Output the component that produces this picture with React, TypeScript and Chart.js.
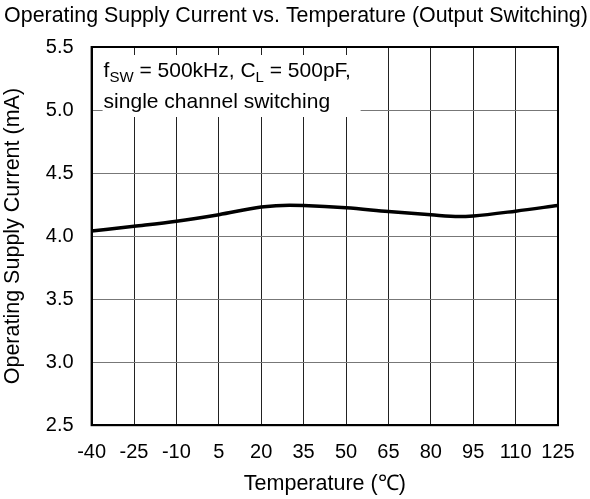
import React, { useEffect, useRef } from "react";
import { Chart, registerables } from "chart.js";

Chart.register(...registerables);

const temperatures = [-40, -25, -10, 5, 20, 30, 35, 50, 65, 80, 90, 95, 110, 125];
const supplyCurrent = [4.04, 4.078, 4.118, 4.17, 4.23, 4.245, 4.243, 4.225, 4.195, 4.169, 4.155, 4.16, 4.198, 4.243];
const xTicks = [-40, -25, -10, 5, 20, 35, 50, 65, 80, 95, 110, 125];
const yTicks = [2.5, 3.0, 3.5, 4.0, 4.5, 5.0, 5.5];
const chartTitle = "Operating Supply Current vs. Temperature (Output Switching)";

const FONT = "'Liberation Sans', Arial, sans-serif";

const notePlugin = {
  id: "note",
  beforeDatasetsDraw(chart: any) {
    const { ctx, chartArea } = chart;
    const x0 = chartArea.left + 11;
    const y0 = chartArea.top + 8;
    ctx.save();
    ctx.fillStyle = "#fff";
    ctx.fillRect(x0, y0, 258, 62);
    ctx.fillStyle = "#000";
    ctx.textBaseline = "alphabetic";
    ctx.textAlign = "left";
    const big = `21px ${FONT}`;
    const small = `15px ${FONT}`;
    let x = x0 + 1;
    const b1 = chartArea.top + 30;
    const parts: [string, boolean][] = [
      ["f", false],
      ["SW", true],
      [" = 500kHz, C", false],
      ["L", true],
      [" = 500pF,", false],
    ];
    for (const [t, sub] of parts) {
      ctx.font = sub ? small : big;
      ctx.fillText(t, x, sub ? b1 + 5 : b1);
      x += ctx.measureText(t).width;
    }
    ctx.font = big;
    ctx.fillText("single channel switching", x0 + 1, b1 + 31);
    ctx.restore();
  },
};

const titlePlugin = {
  id: "topTitle",
  afterDraw(chart: any) {
    const { ctx } = chart;
    ctx.save();
    ctx.fillStyle = "#000";
    ctx.font = `21.4px ${FONT}`;
    ctx.textAlign = "center";
    ctx.textBaseline = "middle";
    ctx.fillText(chartTitle, 296, 16);
    ctx.restore();
  },
};

export default function App() {
  const ref = useRef<HTMLCanvasElement>(null);
  useEffect(() => {
    const chart = new Chart(ref.current!, {
      type: "line",
      data: {
        datasets: [
          {
            data: temperatures.map((t, i) => ({ x: t, y: supplyCurrent[i] })),
            borderColor: "#000",
            borderWidth: 3.5,
            pointRadius: 0,
            cubicInterpolationMode: "monotone",
            fill: false,
          },
        ],
      },
      options: {
        animation: false,
        responsive: false,
        layout: { padding: { left: 0, right: 32, top: 47, bottom: 2 } },
        plugins: {
          legend: { display: false },
          tooltip: { enabled: false },
          title: { display: false },
        },
        scales: {
          x: {
            type: "linear",
            min: -40,
            max: 125,
            afterBuildTicks: (axis: any) => {
              axis.ticks = xTicks.map((v) => ({ value: v }));
            },
            ticks: {
              color: "#000",
              font: { family: FONT, size: 20 },
              padding: 15,
              maxRotation: 0,
              autoSkip: false,
            },
            grid: { color: "#222", lineWidth: 1, drawTicks: false },
            border: { color: "#000", width: 2 },
            title: {
              display: true,
              text: "Temperature (℃)",
              color: "#000",
              font: { family: FONT, size: 21.5 },
              padding: { top: -8, bottom: 0 },
            },
          },
          y: {
            type: "linear",
            min: 2.5,
            max: 5.5,
            afterBuildTicks: (axis: any) => {
              axis.ticks = yTicks.map((v) => ({ value: v }));
            },
            ticks: {
              color: "#000",
              font: { family: FONT, size: 20 },
              padding: 18,
              callback: (v: any) => Number(v).toFixed(1),
            },
            grid: { color: "#777", lineWidth: 1, drawTicks: false },
            border: { color: "#000", width: 2 },
            title: {
              display: true,
              text: "Operating Supply Current (mA)",
              color: "#000",
              font: { family: FONT, size: 21.5 },
              padding: { top: 0, bottom: 2 },
            },
          },
        },
      },
      plugins: [
        notePlugin,
        titlePlugin,
        {
          id: "frame",
          afterDatasetsDraw(chart: any) {
            const { ctx, chartArea } = chart;
            ctx.save();
            ctx.strokeStyle = "#000";
            ctx.lineWidth = 2;
            ctx.strokeRect(chartArea.left, chartArea.top, chartArea.right - chartArea.left, chartArea.bottom - chartArea.top);
            ctx.restore();
          },
        },
      ],
    } as any);
    return () => chart.destroy();
  }, []);
  return (
    <div style={{ position: "fixed", left: 0, top: 0, width: 590, height: 499, background: "#fff" }}>
      <canvas ref={ref} width={590} height={499} />
    </div>
  );
}
